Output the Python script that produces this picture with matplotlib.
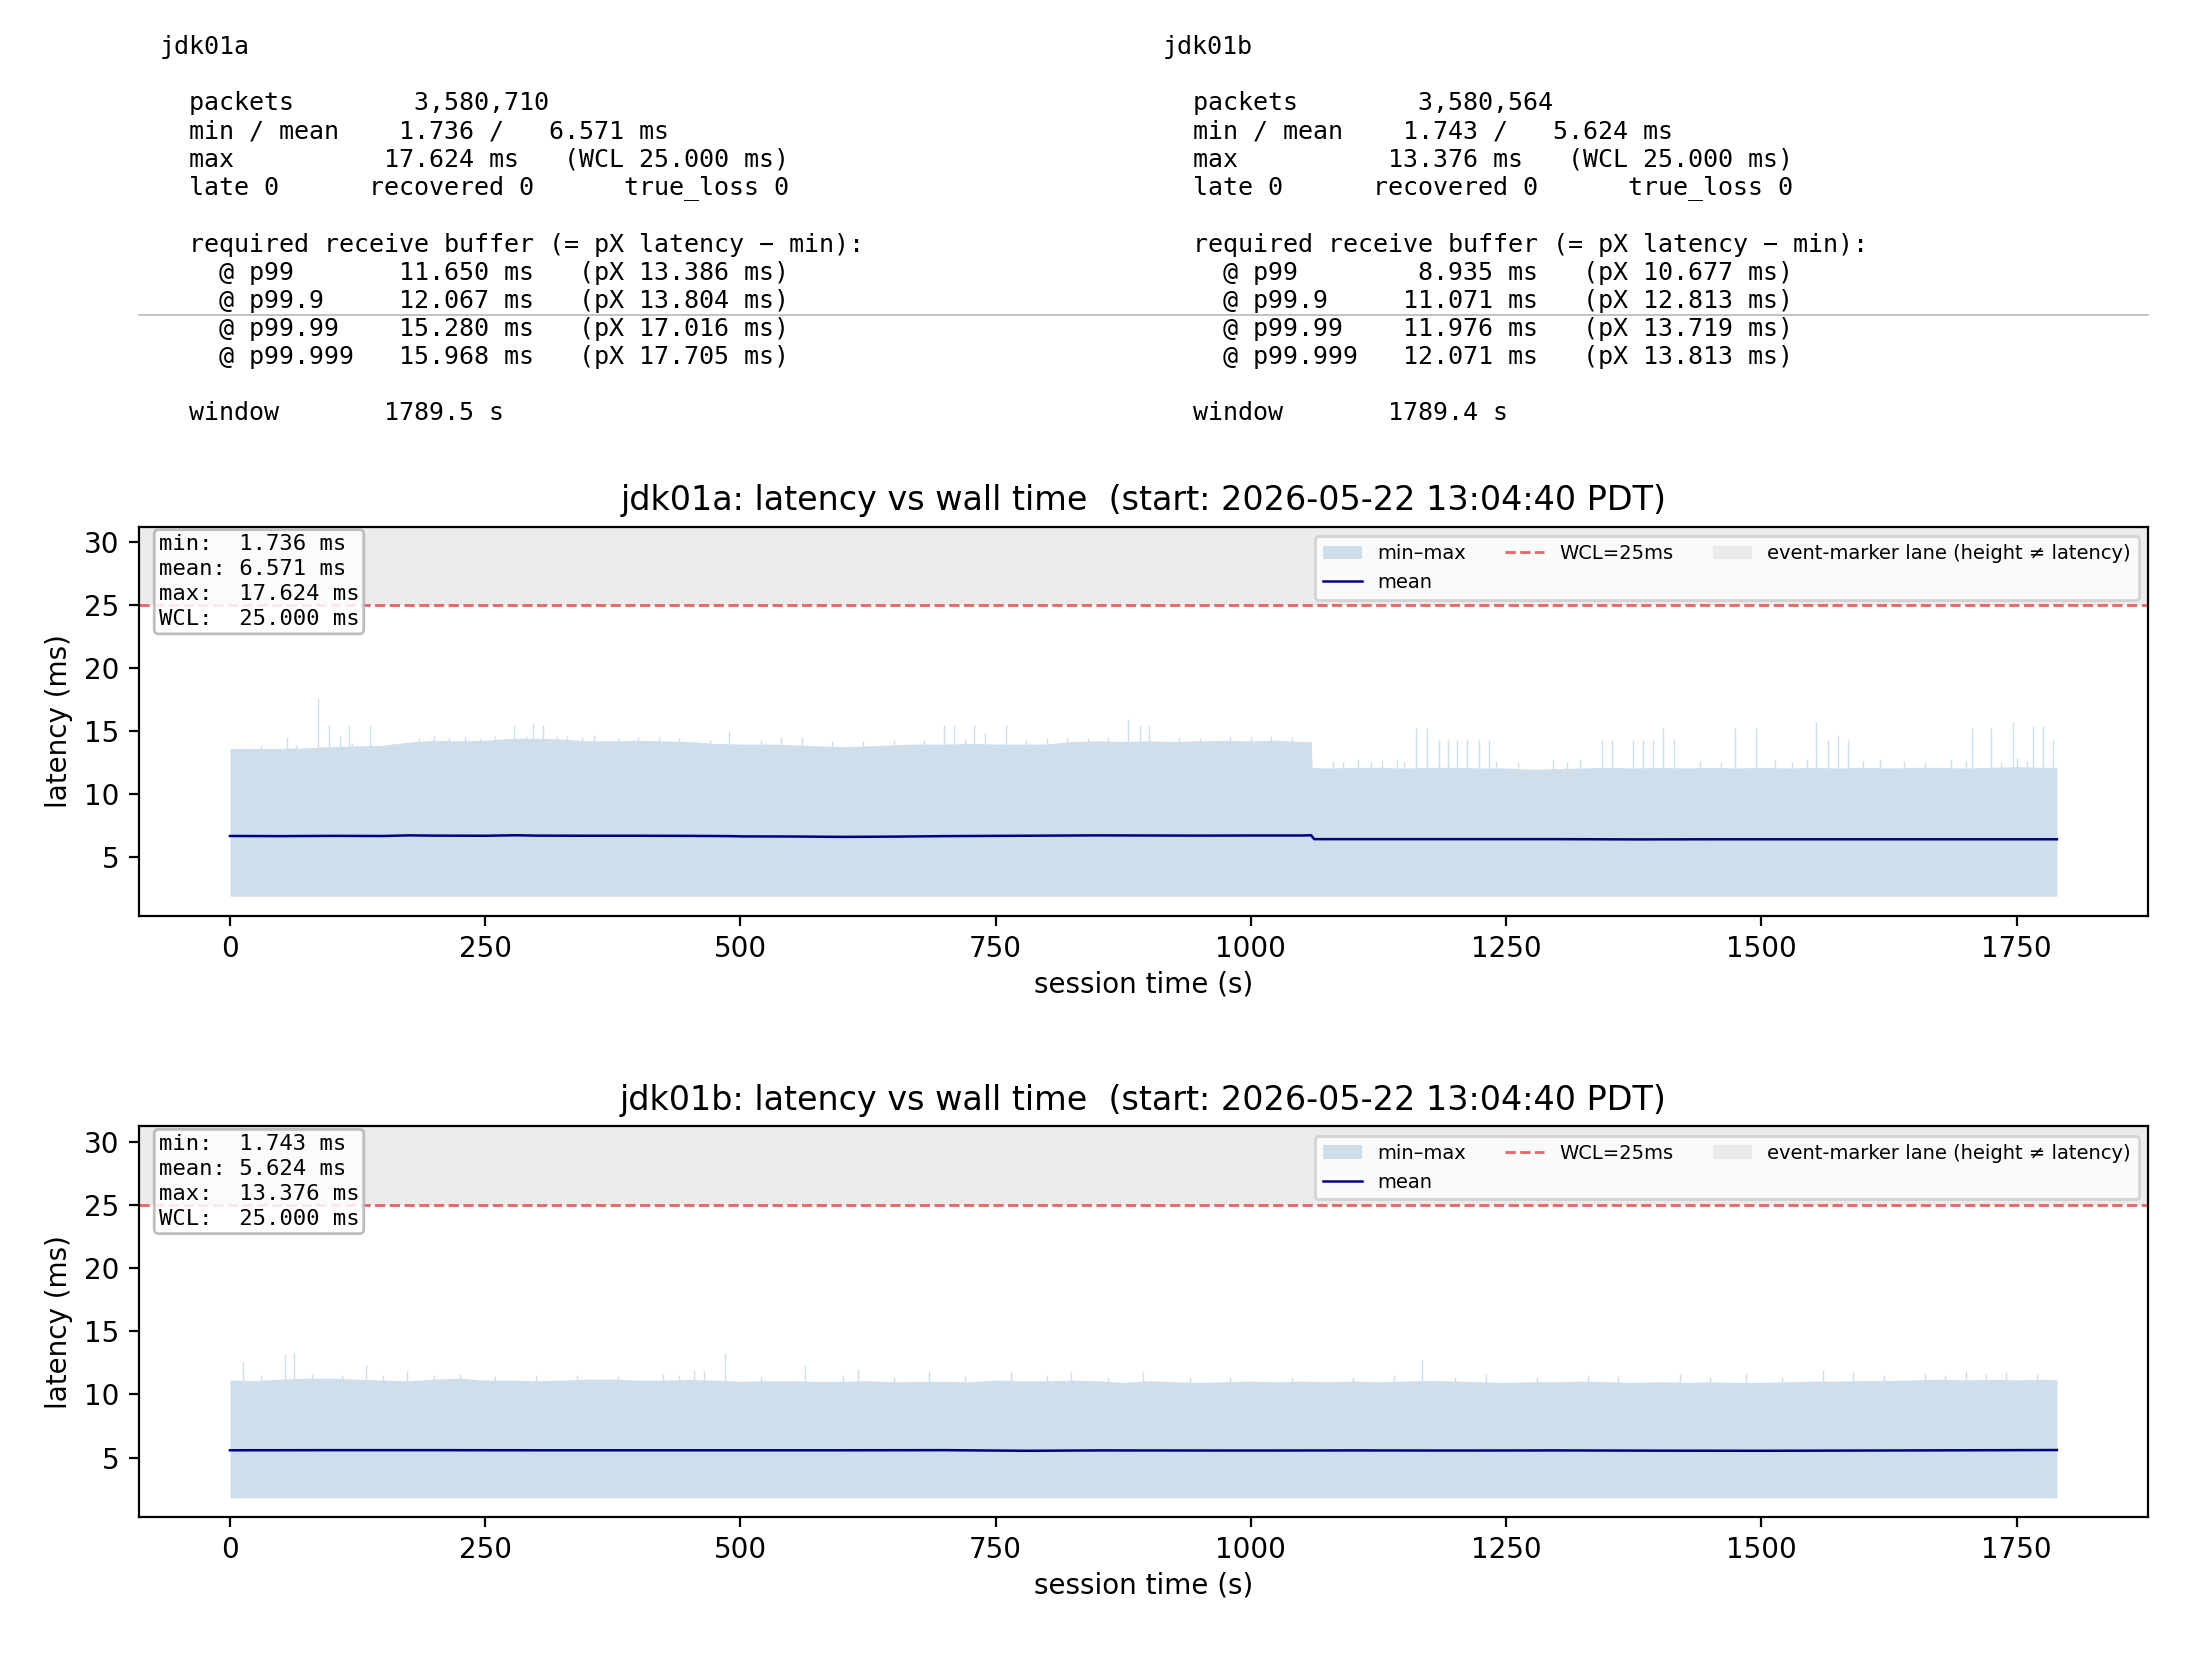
import matplotlib
matplotlib.use("Agg")
import matplotlib.pyplot as plt
from matplotlib.lines import Line2D

# ---- summary numbers ----
hosts = ["jdk01a", "jdk01b"]
packets = ["3,580,710", "3,580,564"]
lat_min = [1.736, 1.743]
lat_mean = [6.571, 5.624]
lat_max = [17.624, 13.376]
wcl_ms = 25.0
late = [0, 0]
recovered = [0, 0]
true_loss = [0, 0]
pct_labels = ["p99", "p99.9", "p99.99", "p99.999"]
buffer_ms = [[11.650, 12.067, 15.280, 15.968], [8.935, 11.071, 11.976, 12.071]]
px_ms = [[13.386, 13.804, 17.016, 17.705], [10.677, 12.813, 13.719, 13.813]]
window_s = [1789.5, 1789.4]
start_stamp = "2026-05-22 13:04:40 PDT"

# ---- jdk01a time series ----
t_a = [0, 25, 50, 75, 100, 125, 150, 175, 200, 225, 250, 275, 300, 325, 350,
       375, 400, 425, 450, 475, 500, 525, 550, 575, 600, 625, 650, 675, 700,
       725, 750, 775, 800, 825, 850, 875, 900, 925, 950, 975, 1000, 1025,
       1050, 1059, 1060, 1075, 1100, 1125, 1150, 1175, 1200, 1225, 1250, 1275,
       1300, 1325, 1350, 1375, 1400, 1425, 1450, 1475, 1500, 1525, 1550, 1575,
       1600, 1625, 1650, 1675, 1700, 1725, 1750, 1775, 1789.5]
hi_a = [13.6, 13.6, 13.6, 13.65, 13.75, 13.8, 13.85, 14.1, 14.25, 14.2, 14.25,
        14.4, 14.4, 14.35, 14.2, 14.2, 14.25, 14.2, 14.15, 14.0, 13.95, 13.95,
        13.9, 13.8, 13.75, 13.8, 13.9, 13.95, 13.95, 14.0, 13.95, 13.95, 13.95,
        14.15, 14.2, 14.15, 14.2, 14.15, 14.2, 14.25, 14.2, 14.25, 14.15, 14.15,
        12.1, 12.05, 12.1, 12.1, 12.05, 12.1, 12.1, 12.05, 12.05, 11.95, 12.0,
        12.05, 12.1, 12.05, 12.1, 12.05, 12.1, 12.05, 12.1, 12.05, 12.1, 12.05,
        12.1, 12.05, 12.1, 12.1, 12.05, 12.1, 12.15, 12.1, 12.1]
lo_a = 1.87
mean_t_a = [0, 50, 100, 150, 175, 200, 250, 280, 300, 350, 400, 450, 490, 500,
            550, 600, 650, 700, 750, 800, 850, 900, 950, 1000, 1050, 1059, 1062,
            1100, 1200, 1300, 1380, 1450, 1550, 1650, 1789.5]
mean_v_a = [6.65, 6.64, 6.66, 6.65, 6.70, 6.68, 6.67, 6.71, 6.68, 6.67, 6.67,
            6.66, 6.64, 6.62, 6.61, 6.58, 6.60, 6.64, 6.66, 6.68, 6.70, 6.69,
            6.68, 6.69, 6.69, 6.71, 6.40, 6.40, 6.40, 6.40, 6.38, 6.39, 6.39,
            6.39, 6.39]
spike_t_a = [56, 86.5, 97, 108, 117, 137, 278, 297, 307, 357, 489, 699, 709,
             729, 740, 760, 880, 891, 900,
             1162, 1172, 1184, 1193, 1202, 1212, 1223, 1233, 1344, 1354, 1374,
             1384, 1394, 1404, 1414, 1474, 1495, 1554, 1565, 1575, 1585, 1706,
             1725, 1746, 1766, 1776, 1786,
             30, 65, 120, 160, 185, 200, 215, 230, 245, 260, 290, 320, 330, 345,
             380, 400, 420, 440, 470, 520, 540, 560, 590, 620, 650, 680, 720,
             780, 800, 820, 840, 860, 930, 950, 980, 1000, 1020, 1040,
             1080, 1090, 1105, 1118, 1128, 1143, 1150, 1240, 1262, 1296, 1310,
             1322, 1440, 1460, 1513, 1530, 1545, 1600, 1616, 1640, 1660, 1686,
             1700, 1735, 1750, 1760]
spike_v_a = [14.5, 17.62, 15.45, 14.55, 15.5, 15.5, 15.5, 15.6, 15.45, 14.7,
             14.95, 15.5, 15.5, 15.5, 14.8, 15.5, 15.95, 15.5, 15.5,
             15.2, 15.2, 14.3, 14.3, 14.3, 14.35, 14.3, 14.25, 14.3, 14.3, 14.3,
             14.3, 14.3, 15.2, 14.35, 15.2, 15.2, 15.7, 14.3, 14.7, 14.3, 15.2,
             15.2, 15.7, 15.35, 15.4, 14.25,
             13.9, 13.85, 14.0, 14.0, 14.45, 14.6, 14.5, 14.6, 14.45, 14.6, 14.6,
             14.55, 14.6, 14.5, 14.45, 14.5, 14.5, 14.4, 14.3, 14.3, 14.5, 14.5,
             14.2, 14.2, 14.25, 14.3, 14.35, 14.3, 14.4, 14.45, 14.4, 14.5, 14.5,
             14.45, 14.55, 14.5, 14.6, 14.5,
             12.6, 12.5, 12.8, 12.5, 12.7, 12.75, 12.5, 12.6, 12.5, 12.7, 12.5,
             12.75, 12.6, 12.5, 12.7, 12.5, 12.8, 12.6, 12.75, 12.6, 12.5, 12.8,
             12.6, 12.5, 12.85, 12.6]

# ---- jdk01b time series ----
t_b = [0, 25, 50, 75, 100, 125, 150, 175, 200, 225, 250, 275, 300, 325, 350,
       375, 400, 425, 450, 475, 500, 525, 550, 575, 600, 625, 650, 675, 700,
       725, 750, 775, 800, 825, 850, 875, 900, 925, 950, 975, 1000, 1025,
       1050, 1075, 1100, 1125, 1150, 1175, 1200, 1225, 1250, 1275, 1300, 1325,
       1350, 1375, 1400, 1425, 1450, 1475, 1500, 1525, 1550, 1575, 1600, 1625,
       1650, 1675, 1700, 1725, 1750, 1775, 1789.5]
hi_b = [11.13, 11.08, 11.21, 11.29, 11.29, 11.21, 11.13, 11.08, 11.21, 11.29,
        11.13, 11.13, 11.08, 11.13, 11.21, 11.21, 11.13, 11.13, 11.18, 11.13,
        11.03, 11.08, 11.08, 11.03, 11.03, 11.08, 11.0, 11.03, 11.03, 11.0,
        11.13, 11.08, 11.08, 11.13, 11.08, 10.95, 11.08, 11.0, 10.95, 11.0,
        11.05, 11.0, 11.05, 11.0, 11.05, 11.0, 11.05, 11.1, 11.05, 11.0, 10.95,
        11.0, 11.0, 11.05, 11.0, 10.95, 11.0, 10.95, 11.0, 10.95, 10.95, 11.0,
        11.05, 11.05, 11.1, 11.1, 11.15, 11.2, 11.15, 11.2, 11.15, 11.2, 11.15]
lo_b = 1.82
mean_t_b = [0, 100, 200, 300, 400, 500, 600, 700, 780, 850, 1000, 1100, 1200,
            1300, 1400, 1500, 1600, 1700, 1789.5]
mean_v_b = [5.58, 5.59, 5.59, 5.58, 5.58, 5.58, 5.58, 5.59, 5.54, 5.57, 5.56,
            5.57, 5.56, 5.57, 5.55, 5.54, 5.56, 5.58, 5.60]
spike_t_b = [13, 54, 62.5, 133, 173, 225, 424, 455, 464, 485, 563, 615, 685,
             765, 824, 894, 1168, 1230, 1330, 1420, 1485, 1560, 1590, 1660,
             1700, 1740,
             30, 80, 110, 150, 200, 260, 300, 340, 380, 440, 520, 600, 650,
             720, 800, 860, 940, 980, 1040, 1100, 1140, 1200, 1280, 1360, 1450,
             1520, 1620, 1680, 1720, 1770]
spike_v_b = [12.6, 13.2, 13.3, 12.3, 11.85, 11.6, 11.6, 11.9, 11.85, 13.25,
             12.3, 12.0, 11.85, 11.85, 11.8, 11.8, 12.7, 11.6, 11.55, 11.6,
             11.7, 11.9, 11.8, 11.7, 11.85, 11.75,
             11.5, 11.6, 11.55, 11.5, 11.55, 11.45, 11.5, 11.55, 11.45, 11.5,
             11.45, 11.5, 11.4, 11.45, 11.5, 11.4, 11.35, 11.4, 11.35, 11.4,
             11.5, 11.4, 11.35, 11.45, 11.35, 11.4, 11.5, 11.55, 11.6, 11.65]

band_color = "#cfdeeb"
y_top = 31.2


def header_text(i):
    lines = [
        hosts[i],
        "",
        "  packets        {0}".format(packets[i]),
        "  min / mean  {0:7.3f} / {1:7.3f} ms".format(lat_min[i], lat_mean[i]),
        "  max         {0:7.3f} ms   (WCL {1:.3f} ms)".format(lat_max[i], wcl_ms),
        "  late {0}      recovered {1}      true_loss {2}".format(late[i], recovered[i], true_loss[i]),
        "",
        "  required receive buffer (= pX latency \u2212 min):",
    ]
    for lab, buf, px in zip(pct_labels, buffer_ms[i], px_ms[i]):
        lines.append("    @ {0:<9}{1:7.3f} ms   (pX {2:.3f} ms)".format(lab, buf, px))
    lines.append("")
    lines.append("  window       {0:.1f} s".format(window_s[i]))
    return "\n".join(lines)


def add_panel(ax, i, t, lo, hi, mean_t, mean_v, spike_t, spike_v):
    ax.axhspan(wcl_ms, y_top, color="#ebebeb", lw=0, zorder=0,
               label="event-marker lane (height \u2260 latency)")
    band = ax.fill_between(t, lo, hi, color=band_color, lw=0, label="min\u2013max", zorder=1)
    ax.vlines(spike_t, lo, spike_v, color=band_color, lw=0.5, zorder=1)
    mean_line, = ax.plot(mean_t, mean_v, color="navy", lw=0.9, label="mean", zorder=3)
    wcl_line = ax.axhline(wcl_ms, color="#e34a4a", ls="--", lw=1.0, alpha=0.85,
                          label="WCL={0:.0f}ms".format(wcl_ms), zorder=2)
    lane = ax.patches[0]
    ax.legend([band, mean_line, wcl_line, lane],
              [band.get_label(), "mean", wcl_line.get_label(), lane.get_label()],
              loc="upper right", ncol=3, fontsize=7, framealpha=0.8)

    ax.set_ylim(0.3, y_top)
    ax.set_xlim(-89.5, 1879)
    ax.set_title("{0}: latency vs wall time  (start: {1})".format(hosts[i], start_stamp), fontsize=12)
    ax.set_xlabel("session time (s)", labelpad=2.5)
    ax.set_ylabel("latency (ms)")

    stats = "min:  {0:.3f} ms\nmean: {1:.3f} ms\nmax:  {2:.3f} ms\nWCL:  {3:.3f} ms".format(
        lat_min[i], lat_mean[i], lat_max[i], wcl_ms)
    ax.text(0.01, 0.981, stats, transform=ax.transAxes, va="top", ha="left",
            family="DejaVu Sans Mono", fontsize=8, linespacing=1.32, zorder=5,
            bbox=dict(boxstyle="round,pad=0.2", fc="white", ec="0.7", alpha=0.85))


fig = plt.figure(figsize=(11, 8.35), dpi=200)

fig.text(0.0724, 0.979, header_text(0), family="DejaVu Sans Mono", fontsize=9,
         linespacing=1.215, va="top", ha="left")
fig.text(0.5286, 0.979, header_text(1), family="DejaVu Sans Mono", fontsize=9,
         linespacing=1.215, va="top", ha="left")
fig.add_artist(Line2D([0.063, 0.9765], [0.8114, 0.8114], transform=fig.transFigure,
                      color="#b8b8b8", lw=0.6))

ax1 = fig.add_axes([0.063, 0.4515, 0.9135, 0.2331])
ax2 = fig.add_axes([0.063, 0.0916, 0.9135, 0.2339])
add_panel(ax1, 0, t_a, lo_a, hi_a, mean_t_a, mean_v_a, spike_t_a, spike_v_a)
add_panel(ax2, 1, t_b, lo_b, hi_b, mean_t_b, mean_v_b, spike_t_b, spike_v_b)

fig.savefig("out.png", dpi=200)
